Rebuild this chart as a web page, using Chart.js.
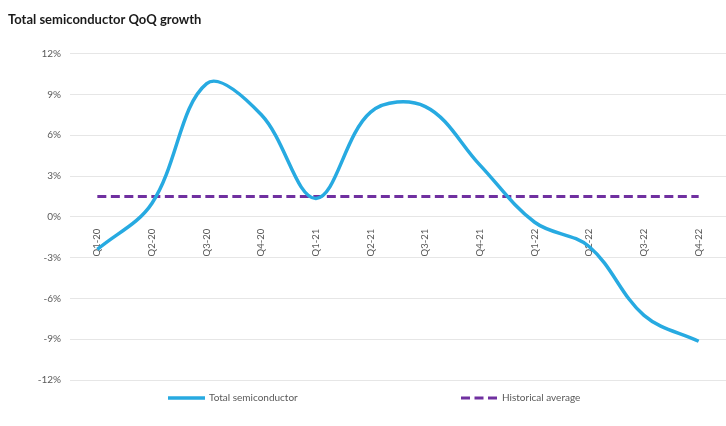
<!DOCTYPE html>
<html><head><meta charset="utf-8">
<script src="https://cdn.jsdelivr.net/npm/chart.js@4/dist/chart.umd.min.js"></script>
<style>html,body{margin:0;padding:0;background:#fff;overflow:hidden}</style>
</head><body>
<canvas id="c" width="726" height="426"></canvas>
<script>
const categories = ['Q1-20','Q2-20','Q3-20','Q4-20','Q1-21','Q2-21','Q3-21','Q4-21','Q1-22','Q2-22','Q3-22','Q4-22'];
const totalSemiconductor = [-2.4, 1.0, 9.8, 7.5, 1.35, 7.7, 8.1, 3.8, -0.4, -2.2, -7.25, -9.15];
const historicalAverage = [1.5, 1.5, 1.5, 1.5, 1.5, 1.5, 1.5, 1.5, 1.5, 1.5, 1.5, 1.5];
const yTicks = [-12, -9, -6, -3, 0, 3, 6, 9, 12];
const seriesNames = ['Total semiconductor', 'Historical average'];

const FONT = "Lato, 'Open Sans', sans-serif";
const TEXT_GRAY = '#595959';

const legendPlugin = {
  id: 'customLegend',
  afterDraw(chart) {
    const ctx = chart.ctx;
    const y = 398;
    const starts = [168, 461];
    ctx.save();
    chart.data.datasets.forEach((ds, i) => {
      const x0 = starts[i];
      ctx.beginPath();
      ctx.strokeStyle = ds.borderColor;
      ctx.lineWidth = ds.borderWidth;
      ctx.setLineDash(ds.borderDash || []);
      ctx.moveTo(x0, y);
      ctx.lineTo(x0 + 37, y);
      ctx.stroke();
      ctx.setLineDash([]);
      ctx.fillStyle = TEXT_GRAY;
      ctx.font = "10px " + FONT;
      ctx.textBaseline = 'middle';
      ctx.textAlign = 'left';
      ctx.fillText(ds.label, x0 + 41, y);
    });
    ctx.restore();
  }
};

new Chart(document.getElementById('c'), {
  type: 'line',
  data: {
    labels: categories,
    datasets: [
      {
        label: seriesNames[0],
        data: totalSemiconductor,
        borderColor: '#27aae1',
        borderWidth: 3.5,
        pointRadius: 0,
        tension: 0.36,
        fill: false
      },
      {
        label: seriesNames[1],
        data: historicalAverage,
        borderColor: '#7030a0',
        borderWidth: 3,
        borderDash: [9, 4.5],
        pointRadius: 0,
        tension: 0,
        fill: false
      }
    ]
  },
  options: {
    responsive: false,
    animation: false,
    layout: { padding: { left: 8, right: -2, top: 0, bottom: 46 } },
    plugins: {
      legend: { display: false },
      tooltip: { enabled: false },
      title: {
        display: true,
        text: 'Total semiconductor QoQ growth',
        align: 'start',
        color: '#1a1a1a',
        font: { family: FONT, size: 13, weight: 'bold' },
        padding: { top: 12, bottom: 26 }
      }
    },
    scales: {
      x: {
        position: { y: 0 },
        offset: true,
        grid: { display: false },
        border: { display: false },
        ticks: {
          autoSkip: false,
          minRotation: 90,
          maxRotation: 90,
          padding: 4,
          color: TEXT_GRAY,
          font: { family: FONT, size: 9.5 }
        }
      },
      y: {
        min: -12,
        max: 12,
        afterBuildTicks(scale) { scale.ticks = yTicks.map(v => ({ value: v })); },
        afterFit(scale) { scale.width = 62; },
        grid: { color: '#e6e6e6', lineWidth: 1, drawTicks: false },
        border: { display: false },
        ticks: {
          padding: 9,
          color: TEXT_GRAY,
          font: { family: FONT, size: 10 },
          callback: v => v + '%'
        }
      }
    }
  },
  plugins: [legendPlugin]
});
</script>
</body></html>
